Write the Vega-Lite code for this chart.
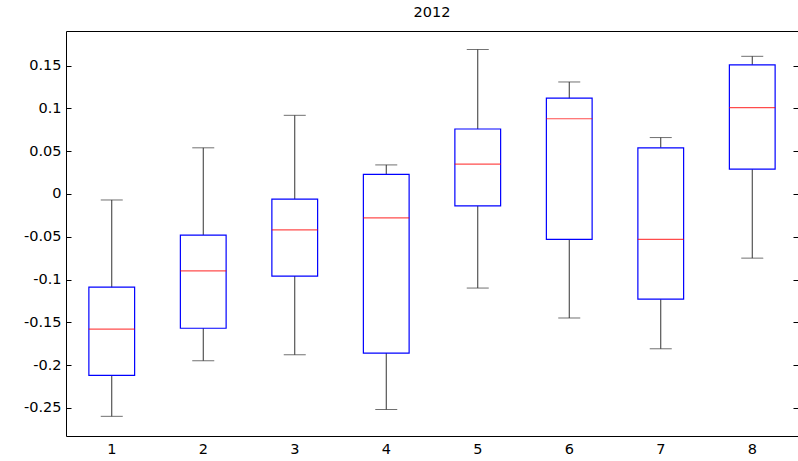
{
  "$schema": "https://vega.github.io/schema/vega-lite/v6.json",
  "width": 732,
  "height": 405,
  "autosize": {"type": "none"},
  "padding": {"left": 66, "top": 31, "right": 0, "bottom": 25},
  "background": "white",
  "view": {"stroke": null},
  "config": {
    "font": "DejaVu Sans",
    "axis": {"labelFont": "DejaVu Sans", "labelFontSize": 14.5, "labelFontWeight": "normal", "labelColor": "black", "domainColor": "black", "tickColor": "black", "grid": false, "title": null}
  },
  "title": {"text": "2012", "font": "DejaVu Sans", "fontSize": 14.5, "fontWeight": "normal", "color": "black", "offset": 11, "anchor": "middle"},
  "data": {
    "values": [
      {"group": 1, "lower": -0.260, "q1": -0.212, "median": -0.158, "q3": -0.109, "upper": -0.007},
      {"group": 2, "lower": -0.195, "q1": -0.157, "median": -0.090, "q3": -0.048, "upper": 0.054},
      {"group": 3, "lower": -0.188, "q1": -0.096, "median": -0.042, "q3": -0.006, "upper": 0.092},
      {"group": 4, "lower": -0.252, "q1": -0.186, "median": -0.028, "q3": 0.023, "upper": 0.034},
      {"group": 5, "lower": -0.110, "q1": -0.014, "median": 0.035, "q3": 0.076, "upper": 0.169},
      {"group": 6, "lower": -0.145, "q1": -0.053, "median": 0.088, "q3": 0.112, "upper": 0.131},
      {"group": 7, "lower": -0.181, "q1": -0.123, "median": -0.053, "q3": 0.054, "upper": 0.066},
      {"group": 8, "lower": -0.075, "q1": 0.029, "median": 0.101, "q3": 0.151, "upper": 0.161}
    ]
  },
  "layer": [
    {
      "mark": {"type": "rule", "color": "#333333", "strokeWidth": 1},
      "encoding": {
        "x": {
          "field": "group",
          "type": "ordinal",
          "scale": {"paddingInner": 0, "paddingOuter": 0},
          "axis": {"orient": "bottom", "labelAngle": 0, "ticks": false, "labelPadding": 6, "domainWidth": 1}
        },
        "y": {
          "field": "lower",
          "type": "quantitative",
          "scale": {"domain": [-0.283, 0.1906], "nice": false, "zero": false},
          "axis": {
            "orient": "left",
            "values": [-0.25, -0.2, -0.15, -0.1, -0.05, 0, 0.05, 0.1, 0.15],
            "labelExpr": "'' + datum.value",
            "tickSize": -5,
            "labelPadding": 10,
            "domainWidth": 1
          }
        },
        "y2": {"field": "upper"}
      }
    },
    {
      "mark": {"type": "tick", "color": "#333333", "size": 22, "thickness": 1},
      "encoding": {
        "x": {"field": "group", "type": "ordinal", "axis": null},
        "y": {"field": "lower", "type": "quantitative", "axis": null}
      }
    },
    {
      "mark": {"type": "tick", "color": "#333333", "size": 22, "thickness": 1},
      "encoding": {
        "x": {"field": "group", "type": "ordinal", "axis": null},
        "y": {"field": "upper", "type": "quantitative", "axis": null}
      }
    },
    {
      "mark": {"type": "bar", "fill": "white", "stroke": "#0000ff", "strokeWidth": 1.2, "width": {"band": 0.5}},
      "encoding": {
        "x": {"field": "group", "type": "ordinal", "axis": null},
        "y": {"field": "q1", "type": "quantitative", "axis": null},
        "y2": {"field": "q3"}
      }
    },
    {
      "mark": {"type": "tick", "color": "#ff0000", "size": 46, "thickness": 1.2},
      "encoding": {
        "x": {"field": "group", "type": "ordinal", "axis": null},
        "y": {"field": "median", "type": "quantitative", "axis": null}
      }
    },
    {
      "mark": {"type": "rule", "opacity": 0},
      "encoding": {
        "x": {
          "field": "group",
          "type": "ordinal",
          "axis": {"orient": "top", "labels": false, "ticks": false, "domainWidth": 1}
        },
        "y": {
          "field": "median",
          "type": "quantitative",
          "axis": {
            "orient": "right",
            "values": [-0.25, -0.2, -0.15, -0.1, -0.05, 0, 0.05, 0.1, 0.15],
            "labels": false,
            "tickSize": -5,
            "domain": false
          }
        }
      }
    }
  ],
  "resolve": {"axis": {"y": "independent", "x": "independent"}}
}
